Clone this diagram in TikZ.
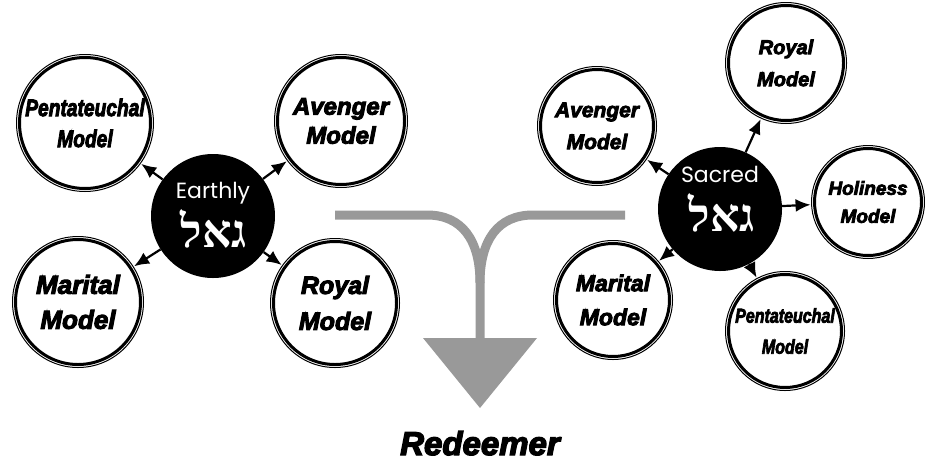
\documentclass[tikz,border=0pt]{standalone}
\usepackage{fontspec}
\usepackage{graphicx}
\usetikzlibrary{arrows.meta,calc}
\setmainfont{Liberation Sans}
\newfontfamily\modelfont{Liberation Sans}[BoldItalicFeatures={FakeBold=4}]
\newfontfamily\hubfont{Poppins}
\newfontfamily\hebfont[Script=Hebrew]{Liberation Serif}
\TeXXeTstate=1
\definecolor{flowgray}{RGB}{153,153,153}
\newcommand{\cond}[1]{\scalebox{0.8}[1]{#1}}

\begin{document}
\begin{tikzpicture}[x=1pt,y=-1pt,
    model/.style 2 args={circle, draw, line width=3pt, inner sep=0pt, outer sep=4pt,
        align=center, font=\modelfont\bfseries\itshape\fontsize{#1}{#2}\selectfont},
    ring/.style={line width=1pt},
    hub/.style={circle, fill=black, minimum size=124pt, inner sep=0pt},
    hublabel/.style={text=white, anchor=base, inner sep=0pt, font=\hubfont\fontsize{22}{22}\selectfont},
    hebrew/.style={text=white, anchor=base, inner sep=0pt, font=\hebfont\bfseries\fontsize{46}{46}\selectfont},
    link/.style={line width=2.2pt, -{Latex[length=15pt,width=13pt]}},
    flow/.style={draw=flowgray, line width=9pt}]
    \useasboundingbox (0,0) rectangle (925,461);

    % Gray funnel arrow
    \draw[flow] (335,215) -- (427,215) .. controls (462,215) and (480,240) .. (480,283) -- (480,340);
    \draw[flow] (625,215) -- (533,215) .. controls (498,215) and (480,240) .. (480,283);
    \fill[flowgray] (423,338) -- (537,338) -- (480,408) -- cycle;
    \node[anchor=base, inner sep=0pt, font=\modelfont\bfseries\itshape\fontsize{33}{33}\selectfont] (redeemer) at (480,455) {Redeemer};

    % Earthly cluster
    \node[hub] (earthly) at (213,216) {};
    \node[hublabel] (earthlylbl) at (213,198) {Earthly};
    \node[hebrew] (earthlyheb) at (214,247) {\beginR גאל\endR};
    \node[model={24}{31}, minimum size=131pt] (pentL) at (85,123) {\cond{Pentateuchal}\\\cond{Model}};
    \node[model={24}{29}, minimum size=127pt] (avengerL) at (341,121) {Avenger\\Model};
    \node[model={26}{35}, minimum size=125pt] (maritalL) at (78,302) {Marital\\Model};
    \node[model={25}{36}, minimum size=123pt] (royalL) at (335,303) {Royal\\Model};

    % Sacred cluster
    \node[hub] (sacred) at (720,209) {};
    \node[hublabel] (sacredlbl) at (720,182) {Sacred};
    \node[hebrew] (sacredheb) at (722,231) {\beginR גאל\endR};
    \node[model={21}{32}, minimum size=113pt] (avengerR) at (597,126) {Avenger\\Model};
    \node[model={20}{32}, minimum size=115pt] (royalR) at (786,63) {Royal\\Model};
    \node[model={19}{28}, minimum size=107pt] (holinessR) at (868,202) {Holiness\\Model};
    \node[model={23}{34}, minimum size=113pt] (maritalR) at (613,300) {Marital\\Model};
    \node[model={20}{31}, minimum size=113pt] (pentR) at (785,331) {\cond{Pentateuchal}\\\cond{Model}};

    % Outer thin rings
    \foreach \nd in {pentL,avengerL,maritalL,royalL,avengerR,royalR,holinessR,maritalR,pentR}
        \draw[ring] let \p1=($(\nd.north)-(\nd.center)$) in (\nd.center) circle[radius=\y1-1pt];

    % Links
    \draw[link] (earthly) -- (pentL);
    \draw[link] (earthly) -- (avengerL);
    \draw[link] (earthly) -- (maritalL);
    \draw[link] (earthly) -- (royalL);
    \draw[link] (sacred) -- (avengerR);
    \draw[link] (sacred) -- (royalR);
    \draw[link] (sacred) -- (holinessR);
    \draw[link] (sacred) -- (maritalR);
    \draw[link] (sacred) -- (pentR);
\end{tikzpicture}
\end{document}
